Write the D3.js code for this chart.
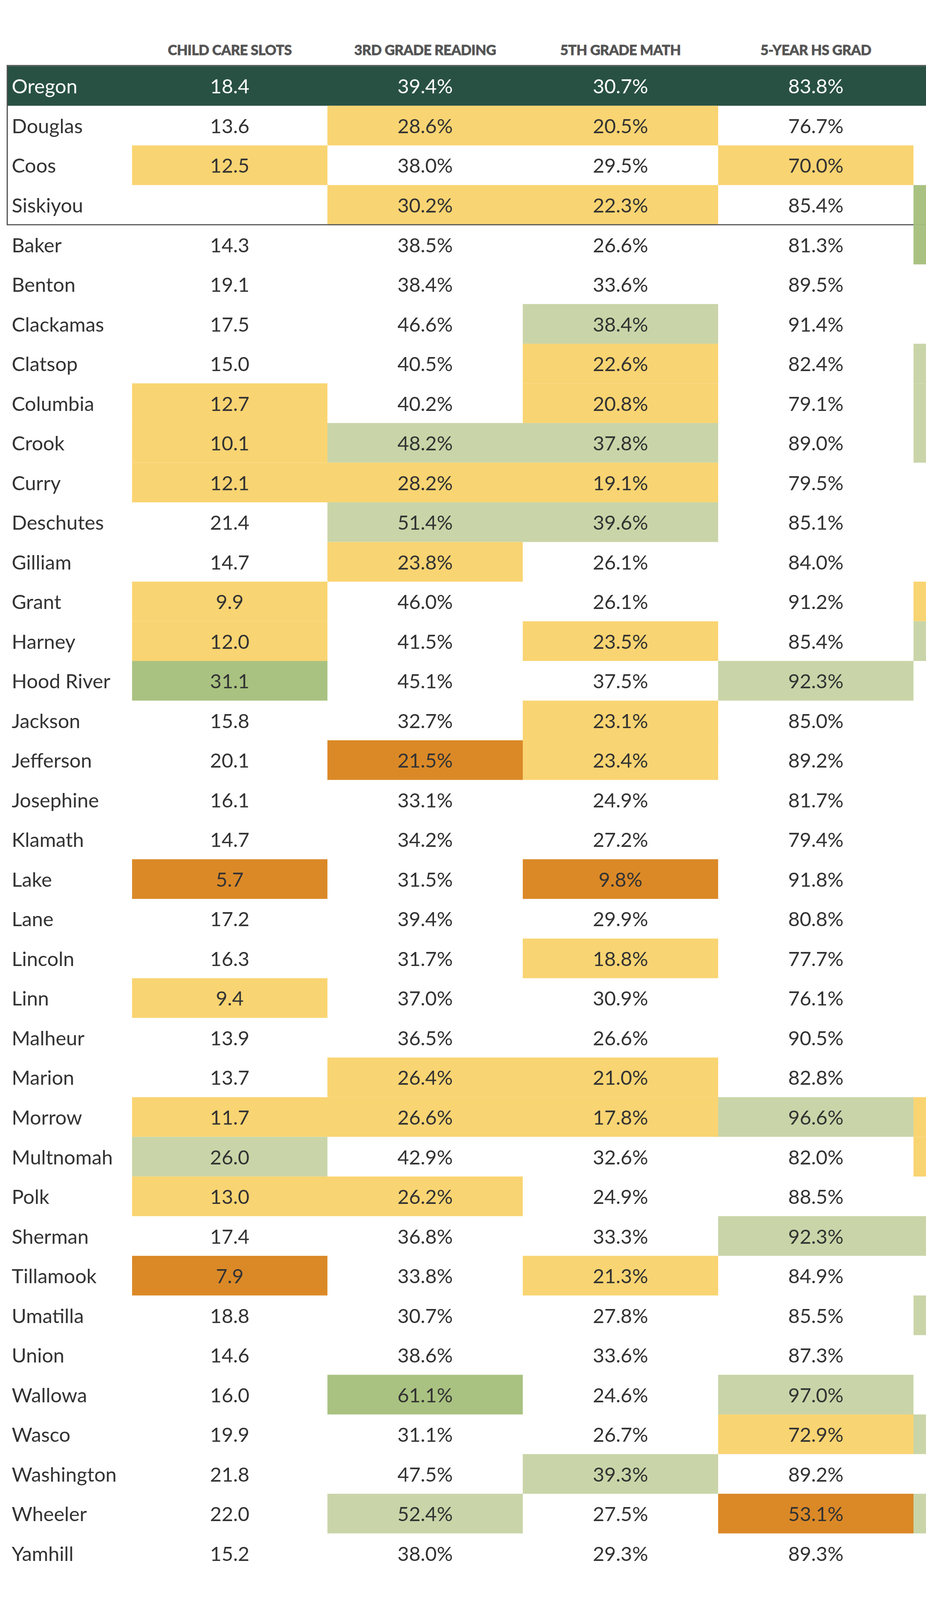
<!DOCTYPE html>
<html>
<head>
<meta charset="utf-8">
<script src="https://cdn.jsdelivr.net/npm/d3@7"></script>
<style>
  html, body { margin: 0; padding: 0; width: 100%; height: 100%; overflow: hidden; background: #fff; }
  svg { display: block; width: 100vw; height: 100vh; }
</style>
</head>
<body>
<svg viewBox="0 0 2370 4200" preserveAspectRatio="none"></svg>
<script>
// county rows, Oregon total on top, comparison counties in the box
const counties = ["Oregon", "Douglas", "Coos", "Siskiyou", "Baker", "Benton", "Clackamas", "Clatsop",
    "Columbia", "Crook", "Curry", "Deschutes", "Gilliam", "Grant", "Harney", "Hood River", "Jackson",
    "Jefferson", "Josephine", "Klamath", "Lake", "Lane", "Lincoln", "Linn", "Malheur", "Marion", "Morrow",
    "Multnomah", "Polk", "Sherman", "Tillamook", "Umatilla", "Union", "Wallowa", "Wasco", "Washington",
    "Wheeler", "Yamhill"];

const columns = ["CHILD CARE SLOTS", "3RD GRADE READING", "5TH GRADE MATH", "5-YEAR HS GRAD"];

const childCare = [18.4, 13.6, 12.5, null, 14.3, 19.1, 17.5, 15.0, 12.7, 10.1, 12.1, 21.4, 14.7, 9.9, 12.0,
    31.1, 15.8, 20.1, 16.1, 14.7, 5.7, 17.2, 16.3, 9.4, 13.9, 13.7, 11.7, 26.0, 13.0, 17.4, 7.9, 18.8, 14.6,
    16.0, 19.9, 21.8, 22.0, 15.2];
const reading3 = [39.4, 28.6, 38.0, 30.2, 38.5, 38.4, 46.6, 40.5, 40.2, 48.2, 28.2, 51.4, 23.8, 46.0, 41.5,
    45.1, 32.7, 21.5, 33.1, 34.2, 31.5, 39.4, 31.7, 37.0, 36.5, 26.4, 26.6, 42.9, 26.2, 36.8, 33.8, 30.7, 38.6,
    61.1, 31.1, 47.5, 52.4, 38.0];
const math5 = [30.7, 20.5, 29.5, 22.3, 26.6, 33.6, 38.4, 22.6, 20.8, 37.8, 19.1, 39.6, 26.1, 26.1, 23.5,
    37.5, 23.1, 23.4, 24.9, 27.2, 9.8, 29.9, 18.8, 30.9, 26.6, 21.0, 17.8, 32.6, 24.9, 33.3, 21.3, 27.8, 33.6,
    24.6, 26.7, 39.3, 27.5, 29.3];
const hsGrad = [83.8, 76.7, 70.0, 85.4, 81.3, 89.5, 91.4, 82.4, 79.1, 89.0, 79.5, 85.1, 84.0, 91.2, 85.4,
    92.3, 85.0, 89.2, 81.7, 79.4, 91.8, 80.8, 77.7, 76.1, 90.5, 82.8, 96.6, 82.0, 88.5, 92.3, 84.9, 85.5, 87.3,
    97.0, 72.9, 89.2, 53.1, 89.3];

// cell shading: "" none, y below, o far below, g above, G far above
const childCareTier = ["", "", "y", "", "", "", "", "", "y", "y", "y", "", "", "y", "y", "G", "", "", "", "",
    "o", "", "", "y", "", "", "y", "g", "y", "", "o", "", "", "", "", "", "", ""];
const reading3Tier = ["", "y", "", "y", "", "", "", "", "", "g", "y", "g", "y", "", "", "", "", "o", "", "",
    "", "", "", "", "", "y", "y", "", "y", "", "", "", "", "G", "", "", "g", ""];
const math5Tier = ["", "y", "", "y", "", "", "g", "y", "y", "g", "y", "g", "", "", "y", "", "y", "y", "", "",
    "o", "", "y", "", "", "y", "y", "", "", "", "y", "", "", "", "", "g", "", ""];
const hsGradTier = ["", "", "y", "", "", "", "", "", "", "", "", "", "", "", "", "g", "", "", "", "",
    "", "", "", "", "", "", "g", "", "", "g", "", "", "", "g", "y", "", "o", ""];
// fifth column is cut off at the right edge, only its shading shows
const nextTier = ["", "", "", "G", "G", "", "", "g", "g", "g", "", "", "", "y", "g", "", "", "", "", "",
    "", "", "", "", "", "", "y", "y", "", "g", "", "g", "", "", "g", "", "g", ""];

const tierColor = {y: "#f9d472", o: "#db8927", g: "#c9d5a8", G: "#a9c281"};

const svg = d3.select("svg");
const W = 2370;
const rowTop = 173.5, rowH = 104.1;

const y = d3.scaleBand()
    .domain(counties)
    .range([rowTop, rowTop + rowH * counties.length]);

const x = d3.scaleBand()
    .domain(d3.range(5))
    .range([338, 338 + 500 * 5]);

const values = [childCare, reading3, math5, hsGrad];
const tiers = [childCareTier, reading3Tier, math5Tier, hsGradTier];

svg.append("rect").attr("width", W).attr("height", 4200).attr("fill", "#fff");

// header
svg.append("g").selectAll("text")
    .data(columns)
    .join("text")
    .attr("x", (d, i) => x(i) + x.bandwidth() / 2)
    .attr("y", 145)
    .attr("text-anchor", "middle")
    .style("font-family", "Lato")
    .style("font-weight", 900)
    .style("font-size", "36px")
    .style("letter-spacing", "-0.6px")
    .style("fill", "#555")
    .style("stroke", "#555")
    .style("stroke-width", "0.8px")
    .text(d => d);

// Oregon row band
svg.append("rect")
    .attr("x", 18)
    .attr("y", y("Oregon"))
    .attr("width", W - 18)
    .attr("height", y.bandwidth())
    .attr("fill", "#285143");

// shaded cells
const cells = [];
tiers.forEach((t, ci) => t.forEach((code, ri) => {
    if (code) cells.push({c: ci, county: counties[ri], code});
}));

svg.append("g").selectAll("rect")
    .data(cells)
    .join("rect")
    .attr("x", d => x(d.c))
    .attr("y", d => y(d.county))
    .attr("width", x.bandwidth())
    .attr("height", y.bandwidth())
    .attr("fill", d => tierColor[d.code]);

// box round Oregon and comparison counties
svg.append("rect")
    .attr("x", 18.5)
    .attr("y", y("Oregon") - 1.5)
    .attr("width", W + 20)
    .attr("height", y("Baker") - y("Oregon") + 1.5)
    .attr("fill", "none")
    .attr("stroke", "#555")
    .attr("stroke-width", 3);

const next = nextTier.map((code, ri) => ({county: counties[ri], code})).filter(d => d.code);
svg.append("g").selectAll("rect")
    .data(next)
    .join("rect")
    .attr("x", x(4))
    .attr("y", d => y(d.county))
    .attr("width", x.bandwidth())
    .attr("height", y.bandwidth())
    .attr("fill", d => tierColor[d.code]);

const textY = d => y(d) + 72;
const txtColor = d => d === "Oregon" ? "#fff" : "#333";

// county names
svg.append("g").selectAll("text")
    .data(counties)
    .join("text")
    .attr("x", 30)
    .attr("y", textY)
    .style("font-family", "Lato")
    .style("font-size", "51px")
    .style("fill", txtColor)
    .text(d => d);

// values
values.forEach((arr, ci) => {
    svg.append("g").selectAll("text")
        .data(arr.map((v, ri) => ({v, county: counties[ri]})).filter(d => d.v !== null))
        .join("text")
        .attr("x", x(ci) + x.bandwidth() / 2)
        .attr("y", d => textY(d.county))
        .attr("text-anchor", "middle")
        .style("font-family", "Lato")
        .style("font-size", "51px")
        .style("fill", d => txtColor(d.county))
        .text(d => ci === 0 ? d.v.toFixed(1) : d.v.toFixed(1) + "%");
});
</script>
</body>
</html>
